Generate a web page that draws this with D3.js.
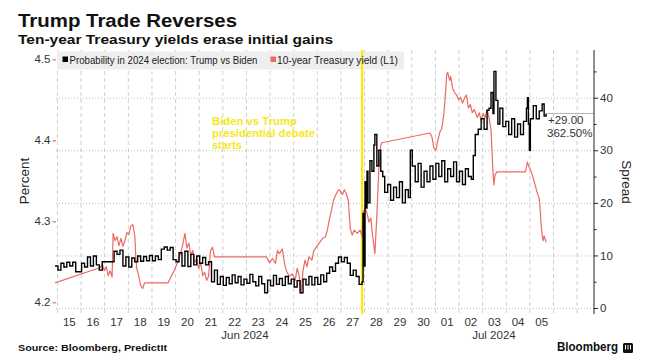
<!DOCTYPE html>
<html><head><meta charset="utf-8">
<script src="https://cdn.jsdelivr.net/npm/d3@7"></script>
<style>
body{margin:0;background:#fff}
svg{display:block}
text{font-family:"Liberation Sans",Arial,sans-serif}
</style>
</head><body><svg id="c" width="649" height="364"></svg>
<script>
// ---------------- data ----------------
const titleText = "Trump Trade Reverses";
const subtitleText = "Ten-year Treasury yields erase initial gains";
const sourceText = "Source: Bloomberg, PredictIt";
const legendLabels = ["Probability in 2024 election: Trump vs Biden", "10-year Treasury yield (L1)"];
const annotationLines = ["Biden vs Trump", "presidential debate", "starts"];
const monthLabels = ["Jun 2024", "Jul 2024"];
const leftTicks = [4.2, 4.3, 4.4, 4.5];
const rightTicks = [0, 10, 20, 30, 40];
const rightMinorTicks = [5, 15, 25, 35, 45];
const lastChangeText = "+29.00";
const lastPctText = "362.50%";
const debateHour = 310;          // hours after 2024-06-15 00:00
const lastSpread = 37;

// 10-year Treasury yield (left axis), hours after 2024-06-15 00:00
const yieldHours = [-2,44,46,48,50,52,54,56,57,59,61,63,65,67,69,71,73,75,77,78,79,80,81,83,85,87,89,
113,116,119,122,125,127,129,130,132,134,136,138,140,142,144,146,148,150,152,154,156,158,160,
213,216,219,222,224,226,229,231,233,236,239,242,244,246,248,250,252,254,256,259,261,264,267,270,273,275,277,279,281,283,286,288,290,292,294,296,298,300,302,305,308,310,
311,313,315,317,319,320,322,323,325,327,329,330,
379,381,383,385,387,389,391,393,395,396,397,399,400,402,404,406,408,410,412,414,416,418,420,422,424,
427,429,431,433,435,437,439,441,442,443,444,445,447,
476,478,480,482,484,486,488,490,491,492,493,494,495,497];
const yieldValues = [4.224,4.243,4.247,4.239,4.244,4.233,4.239,4.231,
4.285,4.276,4.281,4.270,4.279,4.269,4.276,4.286,4.284,4.294,4.296,
4.289,4.283,4.258,4.242,4.233,4.221,4.217,4.224,
4.224,4.232,4.239,4.248,4.258,4.267,4.279,4.285,
4.267,4.273,4.258,4.264,4.249,4.254,4.242,4.249,4.233,4.237,4.227,4.232,4.264,4.268,4.256,
4.256,4.249,4.254,4.248,4.264,4.260,4.266,4.249,4.239,4.232,4.235,4.227,4.242,4.233,4.211,4.239,4.252,4.244,4.256,4.252,4.264,4.269,4.274,4.279,4.281,4.291,4.304,4.314,4.326,4.332,4.339,4.337,4.333,4.339,4.334,4.326,4.291,4.283,4.289,4.285,4.289,4.281,
4.311,4.316,4.310,4.299,4.304,4.289,4.270,4.260,4.307,4.363,4.394,4.397,
4.409,4.404,4.390,4.388,4.400,4.410,4.415,4.431,4.462,
4.481,4.484,4.474,4.479,4.464,4.459,4.456,4.450,4.453,4.446,4.452,4.456,4.440,4.444,4.434,4.438,
4.428,4.434,4.425,4.433,4.428,4.438,4.428,4.413,
4.388,4.361,4.345,4.357,4.361,
4.361,4.373,4.366,4.361,4.353,4.344,4.335,4.328,
4.314,4.295,4.283,4.276,4.282,4.274];

// PredictIt Trump-vs-Biden spread (right axis), hours after 2024-06-15 00:00
const spreadHours = [-2,1,4,7,10,13,16,19,22,25,28,31,34,37,40,43,46,49,52,55,58,61,64,67,70,73,76,79,82,85,88,91,94,97,100,103,106,109,112,115,118,121,124,127,130,133,136,139,142,145,148,151,154,157,160,163,166,169,172,175,178,181,184,187,190,193,196,199,202,205,208,211,214,217,220,223,226,229,232,235,238,241,244,247,250,253,256,259,262,265,268,271,274,277,280,283,286,289,292,295,298,301,304,307,
310,311,312,313,314,315,316,318,320,322,323,325,327,329,331,333,336,339,342,345,348,351,354,357,
359,361,364,367,370,373,376,379,382,385,388,391,394,397,400,403,406,409,412,415,418,421,
423,425,428,431,434,437,439,441,443,444,446,448,450,453,456,459,462,465,468,471,474,477,
478,479,480,481,484,487,490,493,495,497];
const spreadValues = [8.0,7.2,8.5,7.8,8.7,8.0,8.7,6.9,6.9,8.5,7.8,9.7,8.0,9.9,8.2,7.2,8.8,8.8,8.8,8.8,10.8,10.2,11.0,8.0,9.7,7.8,9.5,8.8,9.9,8.9,9.8,9.0,10.0,9.0,9.9,9.2,11.2,11.6,11.0,11.5,9.2,8.8,10.5,8.0,10.8,7.9,10.2,8.2,9.9,8.5,9.6,8.2,8.8,5.0,7.2,4.5,6.0,4.3,5.8,4.6,6.3,4.8,6.0,4.4,5.5,4.7,6.4,5.0,4.2,6.0,4.6,2.9,5.3,4.2,6.2,4.5,5.6,4.3,6.0,4.6,5.5,4.0,5.2,2.9,5.5,4.4,6.0,4.4,5.8,4.5,6.3,5.0,6.6,7.8,7.0,8.5,9.7,8.8,9.6,8.5,6.2,7.2,6.0,4.5,
5.0,18,8,24,19,26,20,28,26,31,33,27,30,26,25,22,23.5,20.5,23,21,24,20,22.5,21,
30,27,24,27.5,23,26,24,27,24.5,27.5,25,28,24,26.5,25,27.8,24,26,23.5,26.5,25,24.5,
29,33,34,36,34,37.6,38,41,37,45,39.5,35,38,34.5,35.5,33,36,32.5,35,33,35.5,38,
40,35,30,36,38.5,36,37.5,38.8,36.5,37];

// ---------------- layout ----------------
const W = 649, H = 364;
const plotL = 55, plotR = 594, plotT = 50, plotB = 313;
const RED = "#ec6a64", YEL = "#f6e71a", GRID = "#cfcfcf", TXT = "#333";

const svg = d3.select("#c");
svg.append("rect").attr("width", W).attr("height", H).attr("fill", "#fff");

const t0 = new Date(2024, 5, 15);
const hToDate = h => new Date(+t0 + h * 3600e3);
const x = d3.scaleTime().domain([t0, new Date(2024, 6, 6)]).range([57, 553]);
const yL = d3.scaleLinear().domain([4.2, 4.5]).range([302.3, 59.3]);
const yR = d3.scaleLinear().domain([0, 40]).range([308, 97.7]);

// vertical day gridlines (dashed)
const dayBounds = d3.timeDay.range(new Date(2024, 5, 15), new Date(2024, 6, 8));
const vg = svg.append("g").attr("transform", `translate(0,${plotB})`)
  .call(d3.axisBottom(x).tickValues(dayBounds).tickSize(-(plotB - plotT)).tickFormat(""));
vg.select(".domain").remove();
vg.selectAll("line").attr("stroke", GRID).attr("stroke-dasharray", "4,3").attr("stroke-width", 1);

// horizontal gridlines (dotted) on right-axis ticks
const hg = svg.append("g").attr("transform", `translate(${plotR},0)`)
  .call(d3.axisRight(yR).tickValues(rightTicks).tickSize(-(plotR - plotL)).tickFormat(""));
hg.select(".domain").remove();
hg.selectAll("line").attr("stroke", "#bdbdbd").attr("stroke-dasharray", "1,2").attr("stroke-width", 1);

// legend background
svg.append("rect").attr("x", 57).attr("y", 51.5).attr("width", 347).attr("height", 18).attr("fill", "#eeeeee");

// debate line
svg.append("line").attr("x1", x(hToDate(debateHour))).attr("x2", x(hToDate(debateHour)))
  .attr("y1", plotT).attr("y2", plotB + 1).attr("stroke", "#ffe900").attr("stroke-width", 2.2);

// series
const yieldData = yieldHours.map((h, i) => ({ t: hToDate(h), v: yieldValues[i] }));
const spreadData = spreadHours.map((h, i) => ({ t: hToDate(h), v: spreadValues[i] }));

svg.append("path").datum(yieldData)
  .attr("fill", "none").attr("stroke", RED).attr("stroke-width", 1.2).attr("stroke-linejoin", "round")
  .attr("d", d3.line().x(d => x(d.t)).y(d => yL(d.v)));

svg.append("path").datum(spreadData)
  .attr("fill", "none").attr("stroke", "#000").attr("stroke-width", 1.4)
  .attr("d", d3.line().curve(d3.curveStepAfter).x(d => x(d.t)).y(d => yR(d.v)));

// last-value line and labels
const lastX = x(spreadData[spreadData.length - 1].t);
svg.append("line").attr("x1", lastX).attr("x2", plotR).attr("y1", yR(lastSpread)).attr("y2", yR(lastSpread))
  .attr("stroke", "#b5b5b5").attr("stroke-width", 1);
svg.append("text").attr("x", 548).attr("y", yR(lastSpread) + 11).attr("font-size", 11.5).attr("fill", TXT).text(lastChangeText);
svg.append("text").attr("x", 547).attr("y", yR(lastSpread) + 24).attr("font-size", 11.5).attr("fill", TXT).text(lastPctText);

// left axis
const la = svg.append("g").attr("transform", `translate(56,0)`)
  .call(d3.axisLeft(yL).tickValues(leftTicks).tickSize(3.5).tickPadding(2).tickFormat(d3.format(".1f")));
la.select(".domain").remove();
la.selectAll("line").attr("stroke", RED).attr("stroke-width", 1.2);
la.selectAll("text").attr("font-size", 11.5).attr("fill", TXT).attr("font-family", "Liberation Sans, Arial, sans-serif");

// right axis
const ra = svg.append("g").attr("transform", `translate(${plotR},0)`)
  .call(d3.axisRight(yR).tickValues(rightTicks).tickSize(4).tickPadding(2));
ra.select(".domain").remove();
ra.selectAll("line").attr("stroke", "#222");
ra.selectAll("text").attr("font-size", 11.5).attr("fill", TXT).attr("font-family", "Liberation Sans, Arial, sans-serif");
const rm = svg.append("g").attr("transform", `translate(${plotR},0)`)
  .call(d3.axisRight(yR).tickValues(rightMinorTicks).tickSize(2.5).tickFormat(""));
rm.select(".domain").remove();
rm.selectAll("line").attr("stroke", "#222");
svg.append("line").attr("x1", plotR).attr("x2", plotR).attr("y1", plotT).attr("y2", plotB + 1)
  .attr("stroke", "#222").attr("stroke-width", 1);

// bottom axis labels (day centers)
const dayCenters = d3.timeDay.range(new Date(2024, 5, 15), new Date(2024, 6, 6)).map(d => d3.timeHour.offset(d, 12));
const ba = svg.append("g").attr("transform", `translate(0,${plotB})`)
  .call(d3.axisBottom(x).tickValues(dayCenters).tickSize(0).tickPadding(5).tickFormat(d3.timeFormat("%d")));
ba.select(".domain").remove();
ba.selectAll("text").attr("font-size", 11.5).attr("fill", TXT).attr("font-family", "Liberation Sans, Arial, sans-serif");

// month labels
const monthSpans = [[x(hToDate(-2)), x(new Date(2024, 6, 1))], [x(new Date(2024, 6, 1)), x(new Date(2024, 6, 6))]];
monthLabels.forEach((m, i) => {
  svg.append("text").attr("x", (monthSpans[i][0] + monthSpans[i][1]) / 2).attr("y", 339)
    .attr("text-anchor", "middle").attr("font-size", 11.5).attr("fill", TXT).text(m);
});

// axis titles
svg.append("text").attr("transform", "translate(29,181) rotate(-90)").attr("text-anchor", "middle")
  .attr("font-size", 13.5).attr("fill", "#222").text("Percent");
svg.append("text").attr("transform", "translate(622,182) rotate(90)").attr("text-anchor", "middle")
  .attr("font-size", 13.5).attr("fill", "#222").text("Spread");

// legend
svg.append("rect").attr("x", 62.5).attr("y", 56.5).attr("width", 5.5).attr("height", 5.5).attr("fill", "#000");
svg.append("text").attr("x", 69.5).attr("y", 63.5).attr("font-size", 10).attr("fill", "#222")
  .attr("textLength", 188).attr("lengthAdjust", "spacingAndGlyphs").text(legendLabels[0]);
svg.append("rect").attr("x", 270.5).attr("y", 56.5).attr("width", 5.5).attr("height", 5.5).attr("fill", RED);
svg.append("text").attr("x", 277).attr("y", 63.5).attr("font-size", 10).attr("fill", "#222")
  .attr("textLength", 121).attr("lengthAdjust", "spacingAndGlyphs").text(legendLabels[1]);

// annotation
const annLen = [85, 103, 30];
annotationLines.forEach((s, i) => {
  svg.append("text").attr("x", 212).attr("y", 125 + i * 12).attr("font-size", 11)
    .attr("font-weight", "bold").attr("fill", YEL).attr("font-family", "DejaVu Sans, sans-serif")
    .attr("textLength", annLen[i]).attr("lengthAdjust", "spacingAndGlyphs").text(s);
});

// titles
svg.append("text").attr("x", 18).attr("y", 27).attr("font-size", 18).attr("font-weight", "bold")
  .attr("font-family", "DejaVu Sans, sans-serif").attr("fill", "#111")
  .attr("textLength", 219).attr("lengthAdjust", "spacingAndGlyphs").text(titleText);
svg.append("text").attr("x", 18).attr("y", 44).attr("font-size", 12.5).attr("font-weight", "bold")
  .attr("font-family", "DejaVu Sans, sans-serif").attr("fill", "#111")
  .attr("textLength", 315).attr("lengthAdjust", "spacingAndGlyphs").text(subtitleText);

// source
svg.append("text").attr("x", 18).attr("y", 351).attr("font-size", 9.5).attr("font-weight", "bold")
  .attr("font-family", "DejaVu Sans, sans-serif").attr("fill", "#111")
  .attr("textLength", 149).attr("lengthAdjust", "spacingAndGlyphs").text(sourceText);

// Bloomberg mark
svg.append("text").attr("x", 557).attr("y", 350.5).attr("font-size", 12.5).attr("font-weight", "bold")
  .attr("fill", "#111").attr("textLength", 61).attr("lengthAdjust", "spacingAndGlyphs").text("Bloomberg");
const lg = svg.append("g").attr("transform", "translate(623,343)");
lg.append("rect").attr("width", 10).attr("height", 10).attr("rx", 1.5).attr("fill", "#111");
[2.5, 5, 7.5].forEach(px => lg.append("line").attr("x1", px).attr("x2", px).attr("y1", 2).attr("y2", 6.5)
  .attr("stroke", "#fff").attr("stroke-width", 1));
</script>
</body></html>
